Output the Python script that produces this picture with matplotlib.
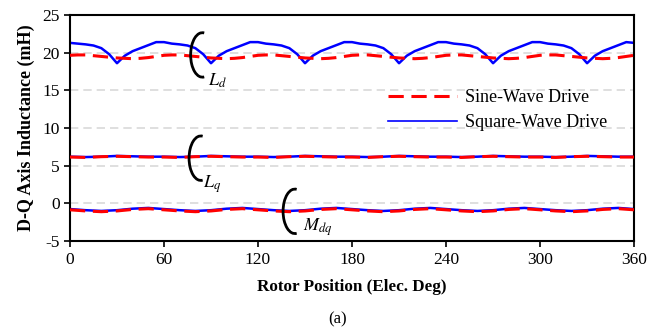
import numpy as np
import matplotlib
matplotlib.use("Agg")
import matplotlib.pyplot as plt
from matplotlib.patches import Arc

# rotor position (elec. deg)
pos_5 = list(range(0, 361, 5))
pos_10 = list(range(0, 361, 10))

# Ld, one value every 5 deg (mH)
ld_square = [21.3, 21.2, 21.1, 20.95, 20.6, 19.8, 18.6, 19.6, 20.2, 20.6, 21.0, 21.4,
             21.4, 21.2, 21.1, 20.95, 20.6, 19.8, 18.6, 19.6, 20.2, 20.6, 21.0, 21.4,
             21.4, 21.2, 21.1, 20.95, 20.6, 19.8, 18.6, 19.6, 20.2, 20.6, 21.0, 21.4,
             21.4, 21.2, 21.1, 20.95, 20.6, 19.8, 18.6, 19.6, 20.2, 20.6, 21.0, 21.4,
             21.4, 21.2, 21.1, 20.95, 20.6, 19.8, 18.6, 19.6, 20.2, 20.6, 21.0, 21.4,
             21.4, 21.2, 21.1, 20.95, 20.6, 19.8, 18.6, 19.6, 20.2, 20.6, 21.0, 21.4,
             21.3]
ld_sine = [19.65, 19.7, 19.7, 19.6, 19.5, 19.4, 19.3, 19.25, 19.2, 19.25, 19.35, 19.5,
           19.65, 19.7, 19.7, 19.6, 19.5, 19.4, 19.3, 19.25, 19.2, 19.25, 19.35, 19.5,
           19.65, 19.7, 19.7, 19.6, 19.5, 19.4, 19.3, 19.25, 19.2, 19.25, 19.35, 19.5,
           19.65, 19.7, 19.7, 19.6, 19.5, 19.4, 19.3, 19.25, 19.2, 19.25, 19.35, 19.5,
           19.65, 19.7, 19.7, 19.6, 19.5, 19.4, 19.3, 19.25, 19.2, 19.25, 19.35, 19.5,
           19.65, 19.7, 19.7, 19.6, 19.5, 19.4, 19.3, 19.25, 19.2, 19.25, 19.35, 19.5,
           19.65]

# Lq and Mdq, one value every 10 deg (mH)
lq_square = [6.2, 6.15, 6.2, 6.3, 6.25, 6.2,
             6.2, 6.15, 6.2, 6.3, 6.25, 6.2,
             6.2, 6.15, 6.2, 6.3, 6.25, 6.2,
             6.2, 6.15, 6.2, 6.3, 6.25, 6.2,
             6.2, 6.15, 6.2, 6.3, 6.25, 6.2,
             6.2, 6.15, 6.2, 6.3, 6.25, 6.2,
             6.2]
lq_sine = [6.15, 6.1, 6.2, 6.25, 6.2, 6.15,
           6.15, 6.1, 6.2, 6.25, 6.2, 6.15,
           6.15, 6.1, 6.2, 6.25, 6.2, 6.15,
           6.15, 6.1, 6.2, 6.25, 6.2, 6.15,
           6.15, 6.1, 6.2, 6.25, 6.2, 6.15,
           6.15, 6.1, 6.2, 6.25, 6.2, 6.15,
           6.15]
mdq_square = [-0.75, -0.9, -1.0, -0.9, -0.7, -0.6,
              -0.75, -0.9, -1.0, -0.9, -0.7, -0.6,
              -0.75, -0.9, -1.0, -0.9, -0.7, -0.6,
              -0.75, -0.9, -1.0, -0.9, -0.7, -0.6,
              -0.75, -0.9, -1.0, -0.9, -0.7, -0.6,
              -0.75, -0.9, -1.0, -0.9, -0.7, -0.6,
              -0.75]
mdq_sine = [-0.85, -1.0, -1.1, -1.0, -0.8, -0.7,
            -0.85, -1.0, -1.1, -1.0, -0.8, -0.7,
            -0.85, -1.0, -1.1, -1.0, -0.8, -0.7,
            -0.85, -1.0, -1.1, -1.0, -0.8, -0.7,
            -0.85, -1.0, -1.1, -1.0, -0.8, -0.7,
            -0.85, -1.0, -1.1, -1.0, -0.8, -0.7,
            -0.85]

x_ticks = [0, 60, 120, 180, 240, 300, 360]
y_ticks = [-5, 0, 5, 10, 15, 20, 25]

# (label, bracket centre x, y, label x, y)
curve_labels = [
    (r"$L_d$", 84.5, 19.7, 94.0, 16.3),
    (r"$L_q$", 83.5, 6.0, 91.0, 2.6),
    (r"$M_{dq}$", 143.5, -1.05, 158.0, -3.2),
]

plt.rcParams["font.family"] = ["Liberation Serif", "DejaVu Serif"]
plt.rcParams["mathtext.fontset"] = "stix"
plt.rcParams["axes.unicode_minus"] = False

fig = plt.figure(figsize=(6.51, 3.33), dpi=100)
ax = fig.add_axes([0.1075, 0.276, 0.8665, 0.679])

for v in y_ticks[1:-1]:
    ax.axhline(v, color="#d9d9d9", lw=1.2, dashes=(5, 3), zorder=0)

blue = "#0000ff"
red = "#ff0000"
ax.plot(pos_5, ld_square, color=blue, lw=1.8, zorder=2)
ax.plot(pos_10, lq_square, color=blue, lw=1.8, zorder=2)
ax.plot(pos_10, mdq_square, color=blue, lw=1.8, zorder=2)
ax.plot(pos_5, ld_sine, color=red, lw=2.2, dashes=(5, 2.5), zorder=3)
ax.plot(pos_10, lq_sine, color=red, lw=2.2, dashes=(5, 2.5), zorder=3)
ax.plot(pos_10, mdq_sine, color=red, lw=2.2, dashes=(5, 2.5), zorder=3)

# legend proxies
h_sine, = ax.plot([], [], color=red, lw=2.2, dashes=(5, 2.5))
h_square, = ax.plot([], [], color=blue, lw=1.2)
ax.legend([h_sine, h_square], ["Sine-Wave Drive", "Square-Wave Drive"],
          loc="upper left", bbox_to_anchor=(0.535, 0.745), frameon=False,
          fontsize=13, handlelength=3.8, handletextpad=0.45, labelspacing=0.45)

for text, bx, by, tx, ty in curve_labels:
    ax.add_patch(Arc((bx, by), 15, 5.9, theta1=68, theta2=292,
                     color="black", lw=2, zorder=4))
    ax.text(tx, ty, text, fontsize=13, ha="center", va="center", zorder=4)

ax.set_xlim(0, 360)
ax.set_ylim(-5, 25)
ax.set_xticks(x_ticks)
ax.set_yticks(y_ticks)
ax.tick_params(labelsize=12.5, length=4, width=1.2, direction="out")
for s in ax.spines.values():
    s.set_linewidth(1.5)

ax.set_xlabel("Rotor Position (Elec. Deg)", fontsize=12.3, fontweight="bold", labelpad=8)
ax.set_ylabel("D-Q Axis Inductance (mH)", fontsize=13, fontweight="bold", labelpad=5)
fig.text(0.519, 0.04, "(a)", fontsize=12, ha="center", va="center")

fig.savefig("out.png", dpi=100)
